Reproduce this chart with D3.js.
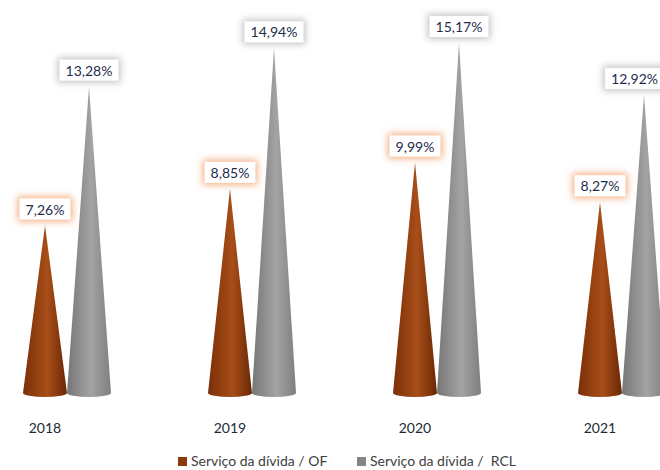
<!DOCTYPE html>
<html>
<head>
<meta charset="utf-8">
<script src="https://cdn.jsdelivr.net/npm/d3@7/dist/d3.min.js"></script>
<style>
  html, body { margin: 0; padding: 0; background: #fff; }
  svg { display: block; font-family: Lato, "Open Sans", sans-serif; }
</style>
</head>
<body>
<svg id="chart" width="660" height="470"></svg>
<script>
// Debt service ratios per year
const years = ["2018", "2019", "2020", "2021"];
const seriesKeys = ["of", "rcl"];
const seriesLabels = ["Serviço da dívida / OF", "Serviço da dívida /  RCL"];
const ofValues = [7.26, 8.85, 9.99, 8.27];
const rclValues = [13.28, 14.94, 15.17, 12.92];
const valueLabels = {
  of: ["7,26%", "8,85%", "9,99%", "8,27%"],
  rcl: ["13,28%", "14,94%", "15,17%", "12,92%"]
};

const svg = d3.select("#chart");
const W = 660, H = 470;

const baseY = 393;
const x0 = d3.scaleBand().domain(years).range([23, 23 + 185 * years.length]);
const x1 = d3.scaleBand().domain(seriesKeys).range([0, 88]);
const y = d3.scaleLinear().domain([0, 16]).range([baseY, baseY - 16 * 23.07]);

const colors = {
  of:  { edge: "#7b2f07", mid: "#a84e19", dark: "#6a2705", swatch: "#8b3a0e", glow: "#f4b183" },
  rcl: { edge: "#767676", mid: "#a3a3a3", dark: "#7f7f7f", swatch: "#858585", glow: "#c4c4c4" }
};

const defs = svg.append("defs");
seriesKeys.forEach(k => {
  const g = defs.append("linearGradient").attr("id", "grad-" + k)
    .attr("x1", "0").attr("x2", "1").attr("y1", "0").attr("y2", "0");
  g.append("stop").attr("offset", "0%").attr("stop-color", colors[k].edge);
  g.append("stop").attr("offset", "55%").attr("stop-color", colors[k].mid);
  g.append("stop").attr("offset", "100%").attr("stop-color", colors[k].dark);

  const f = defs.append("filter").attr("id", "glow-" + k)
    .attr("x", "-40%").attr("y", "-80%").attr("width", "180%").attr("height", "260%");
  f.append("feMorphology").attr("in", "SourceAlpha").attr("operator", "dilate").attr("radius", 2).attr("result", "d");
  f.append("feGaussianBlur").attr("in", "d").attr("stdDeviation", 3.5).attr("result", "b");
  f.append("feFlood").attr("flood-color", colors[k].glow);
  f.append("feComposite").attr("in2", "b").attr("operator", "in").attr("result", "c");
  const m = f.append("feMerge");
  m.append("feMergeNode").attr("in", "c");
  m.append("feMergeNode").attr("in", "SourceGraphic");
});

const rows = years.map((yr, i) => ({ year: yr, of: ofValues[i], rcl: rclValues[i], i }));
const half = x1.bandwidth() / 2;

function conePath(cx, v) {
  const tip = y(v), ry = 4;
  return `M${cx},${tip} L${cx - half},${baseY} A${half},${ry} 0 0 0 ${cx + half},${baseY} Z`;
}

const groups = svg.selectAll("g.year").data(rows).join("g").attr("class", "year")
  .attr("transform", d => `translate(${x0(d.year)},0)`);

// Cones
seriesKeys.forEach(k => {
  groups.append("path")
    .attr("d", d => conePath(x1(k) + half, d[k]))
    .attr("fill", `url(#grad-${k})`);
});

// Value labels with glowing boxes, kept inside the right edge
seriesKeys.forEach(k => {
  const lg = groups.append("g");
  lg.each(function(d) {
    const g = d3.select(this);
    const ox = x0(d.year);
    const tip = y(d[k]);
    const rect = g.append("rect").attr("fill", "#fff").attr("filter", `url(#glow-${k})`);
    const t = g.append("text")
      .attr("y", tip - 11)
      .attr("text-anchor", "middle")
      .attr("font-size", 14)
      .attr("fill", "#1f2d4d")
      .text(valueLabels[k][d.i]);
    const tw = t.node().getComputedTextLength();
    let cx = x1(k) + half;
    const maxCx = W - 2 - tw / 2 - ox;
    if (cx > maxCx) cx = maxCx;
    t.attr("x", cx);
    const w = tw + 12;
    rect.attr("x", cx - w / 2).attr("y", tip - 27).attr("width", w).attr("height", 21);
  });
});

// Category labels under the first cone of each year
svg.selectAll("text.cat").data(years).join("text").attr("class", "cat")
  .attr("x", d => x0(d) + x1("of") + half)
  .attr("y", 433)
  .attr("text-anchor", "middle")
  .attr("font-size", 14)
  .attr("fill", "#222a36")
  .text(d => d);

// Legend
const legendX = [178, 357];
seriesKeys.forEach((k, i) => {
  svg.append("rect").attr("x", legendX[i]).attr("y", 457).attr("width", 9).attr("height", 9)
    .attr("fill", colors[k].swatch);
  svg.append("text").attr("x", legendX[i] + 13).attr("y", 466)
    .attr("font-size", 14).attr("fill", "#404040")
    .attr("xml:space", "preserve").style("white-space", "pre")
    .text(seriesLabels[i]);
});
</script>
</body>
</html>
